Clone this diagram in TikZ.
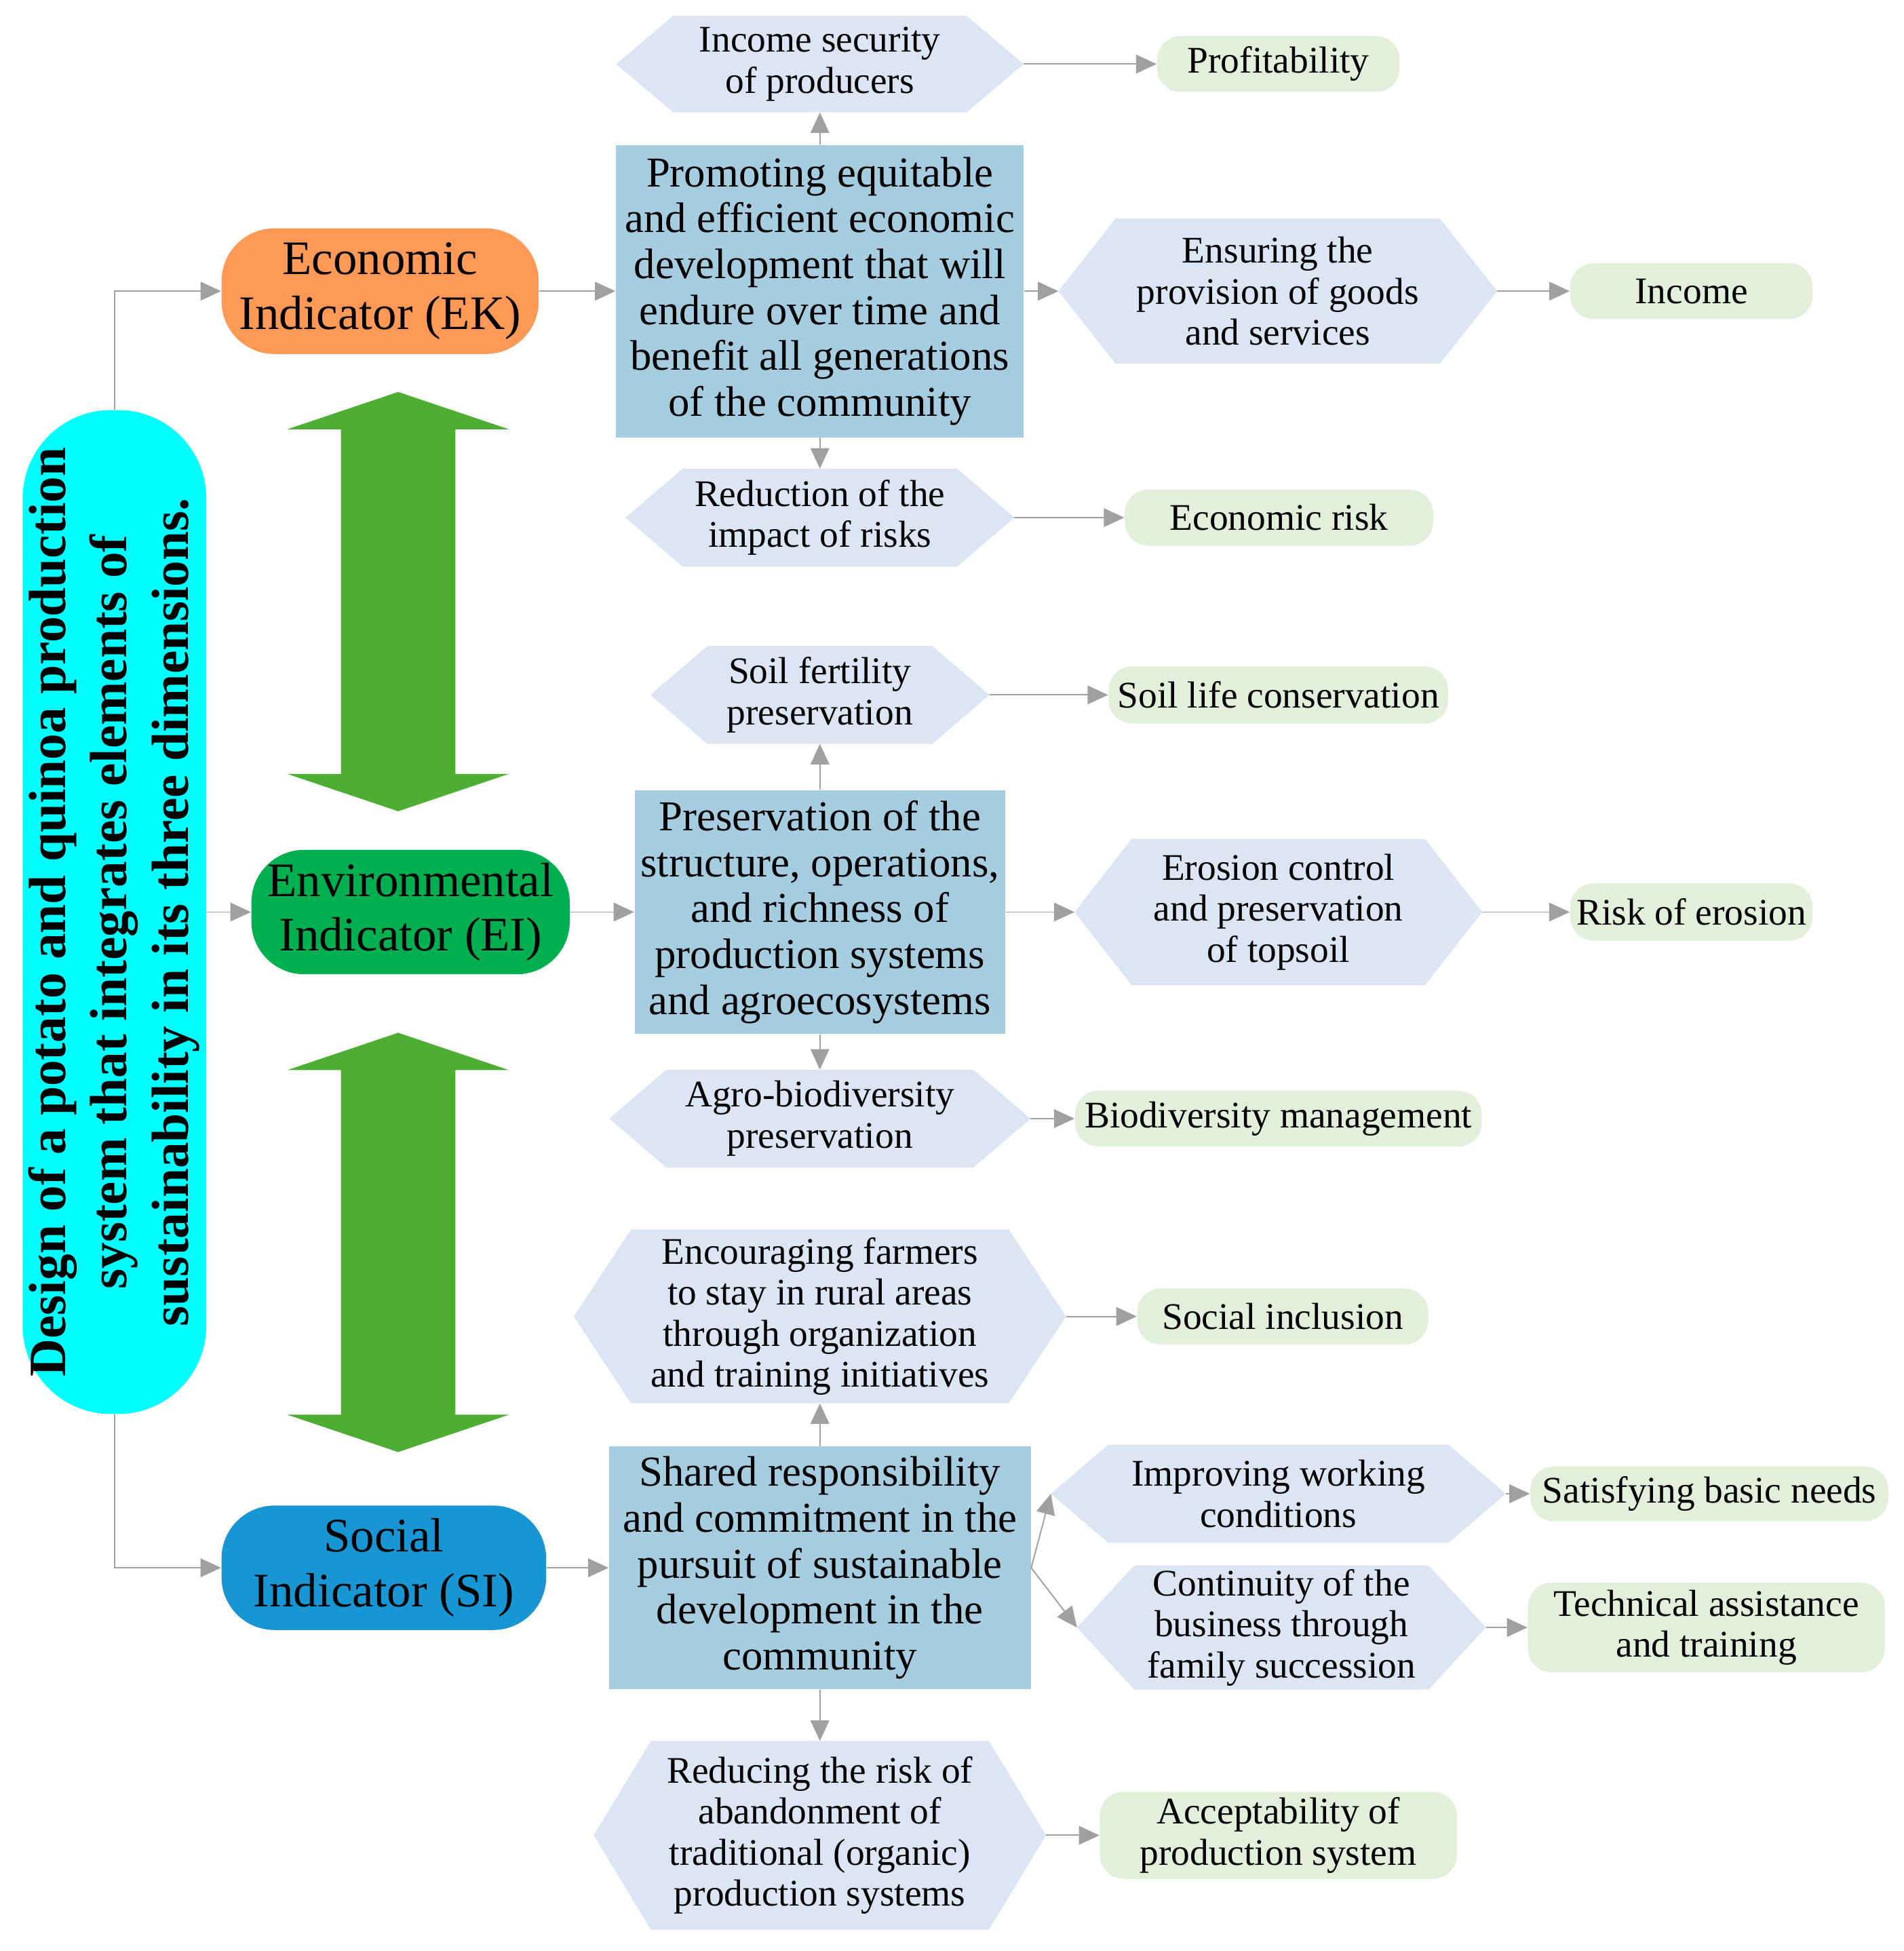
\documentclass[tikz,border=0pt]{standalone}
\usepackage{fontspec}
\usepackage{graphicx}
\setmainfont{Liberation Serif}
\usetikzlibrary{arrows.meta,backgrounds}
\definecolor{designcyan}{RGB}{0,255,255}
\definecolor{ekorange}{RGB}{255,153,85}
\definecolor{eigreen}{RGB}{0,176,80}
\definecolor{siblue}{RGB}{24,150,212}
\definecolor{boxblue}{RGB}{165,205,223}
\definecolor{hexblue}{RGB}{220,229,243}
\definecolor{pillgreen}{RGB}{226,239,218}
\definecolor{arrowgreen}{RGB}{77,174,51}
\definecolor{linkgray}{RGB}{160,160,160}
\tikzset{%
  link/.style = {-{Triangle[length=0.33cm,width=0.3cm]},draw=linkgray,
        line width=0.6pt},
  ind/.style = {rectangle,rounded corners=0.85cm,inner sep=0pt,align=center,
        font=\fontsize{22pt}{25pt}\selectfont},
  bx/.style = {rectangle,fill=boxblue,inner sep=0pt,align=center,
        font=\fontsize{19.5pt}{21pt}\selectfont},
  hx/.style = {rectangle,inner sep=0pt,align=center,
        font=\fontsize{17.2pt}{18.8pt}\selectfont},
  pl/.style = {rectangle,rounded corners=0.38cm,fill=pillgreen,inner sep=0pt,
        align=center,font=\fontsize{17.2pt}{18.8pt}\selectfont},
  hexfill/.style = {fill=hexblue},
  twoway/.style = {fill=arrowgreen}
}
\begin{document}
\begin{tikzpicture}[x=0.02cm,y=-0.02cm]
\useasboundingbox (0,0) rectangle (1530,1568);
% left column
\node[rectangle,fill=designcyan,rounded corners=1.42cm,minimum width=2.9cm,
      minimum height=16.14cm,inner sep=0pt] (design) at (92,733)
      {\rotatebox{90}{\fontsize{24pt}{28pt}\selectfont\bfseries
       \begin{tabular}{@{}c@{}}Design of a potato and quinoa production\\
       system that integrates elements of\\
       sustainability in its three dimensions.\end{tabular}}};
\node[ind,fill=ekorange,minimum width=5.1cm,minimum height=2.02cm] (econ)
      at (305.5,234) {Economic\\Indicator (EK)};
\node[ind,fill=eigreen,minimum width=5.12cm,minimum height=2cm] (env)
      at (330,733) {Environmental\\Indicator (EI)};
\node[ind,fill=siblue,minimum width=5.22cm,minimum height=2cm] (soc)
      at (308.5,1260) {Social\\Indicator (SI)};
\foreach \t in {315,830}
  \fill[twoway] (320,\t) -- (409,\t+30) -- (366,\t+30) -- (366,\t+307)
       -- (409,\t+307) -- (320,\t+337) -- (231,\t+307) -- (274,\t+307)
       -- (274,\t+30) -- (231,\t+30) -- cycle;

% main boxes
\node[bx,minimum width=6.56cm,minimum height=4.7cm] (econbox) at (659,234)
      {Promoting equitable\\and efficient economic\\development that will\\
       endure over time and\\benefit all generations\\of the community};
\node[bx,minimum width=5.96cm,minimum height=3.92cm] (envbox) at (659,733)
      {Preservation of the\\structure, operations,\\and richness of\\
       production systems\\and agroecosystems};
\node[bx,minimum width=6.78cm,minimum height=3.9cm] (socbox) at (659,1260)
      {Shared responsibility\\and commitment in the\\pursuit of sustainable\\
       development in the\\community};

% hexagons
\node[hx,minimum width=6.54cm,minimum height=1.54cm] (hIncome) at (659,51.5)
      {Income security\\of producers};
\node[hx,minimum width=7.04cm,minimum height=2.32cm] (hGoods) at (1027,234)
      {Ensuring the\\provision of goods\\and services};
\node[hx,minimum width=6.24cm,minimum height=1.56cm] (hRisks) at (659,416)
      {Reduction of the\\impact of risks};
\node[hx,minimum width=5.44cm,minimum height=1.56cm] (hSoil) at (659,558.5)
      {Soil fertility\\preservation};
\node[hx,minimum width=6.54cm,minimum height=2.34cm] (hErosion) at (1027.5,733)
      {Erosion control\\and preservation\\of topsoil};
\node[hx,minimum width=6.76cm,minimum height=1.56cm] (hAgro) at (659,899)
      {Agro-biodiversity\\preservation};
\node[hx,minimum width=7.9cm,minimum height=2.78cm] (hFarmers) at (659,1058)
      {Encouraging farmers\\to stay in rural areas\\through organization\\
       and training initiatives};
\node[hx,minimum width=7.3cm,minimum height=1.56cm] (hWorking) at (1027.5,1200.5)
      {Improving working\\conditions};
\node[hx,minimum width=6.56cm,minimum height=1.98cm] (hFamily) at (1030,1308)
      {Continuity of the\\business through\\family succession};
\node[hx,minimum width=7.26cm,minimum height=3.02cm] (hAbandon) at (659,1475)
      {Reducing the risk of\\abandonment of\\traditional (organic)\\
       production systems};
\begin{scope}[on background layer]
\foreach \n in {hIncome,hGoods,hRisks,hSoil,hErosion,hAgro,hFarmers,hWorking,
                hFamily,hAbandon}
  \fill[hexfill] (\n.west) -- ([xshift=0.92cm]\n.north west)
       -- ([xshift=-0.92cm]\n.north east) -- (\n.east)
       -- ([xshift=-0.92cm]\n.south east) -- ([xshift=0.92cm]\n.south west)
       -- cycle;
\end{scope}

% pills
\node[pl,minimum width=3.9cm,minimum height=0.9cm] (pProfit) at (1027.5,51.5)
      {Profitability};
\node[pl,minimum width=3.9cm,minimum height=0.9cm] (pIncome) at (1359.5,234)
      {Income};
\node[pl,minimum width=4.96cm,minimum height=0.9cm] (pEconRisk) at (1028,416)
      {Economic risk};
\node[pl,minimum width=5.46cm,minimum height=0.92cm] (pSoilLife) at (1027.5,558.5)
      {Soil life conservation};
\node[pl,minimum width=3.9cm,minimum height=0.92cm] (pErosion) at (1359.5,733)
      {Risk of erosion};
\node[pl,minimum width=6.54cm,minimum height=0.9cm] (pBiodiv) at (1027.5,899)
      {Biodiversity management};
\node[pl,minimum width=4.68cm,minimum height=0.9cm] (pInclusion) at (1031,1058)
      {Social inclusion};
\node[pl,minimum width=5.76cm,minimum height=0.88cm] (pBasic) at (1374,1200.5)
      {Satisfying basic needs};
\node[pl,minimum width=5.74cm,minimum height=1.44cm] (pTechnical) at (1371.5,1308)
      {Technical assistance\\and training};
\node[pl,minimum width=5.74cm,minimum height=1.4cm] (pAccept) at (1027.5,1475)
      {Acceptability of\\production system};

% connectors
\draw[link] (design.north) |- (econ.west);
\draw[link] (design.east) -- (env.west);
\draw[link] (design.south) |- (soc.west);
\draw[link] (econ.east) -- (econbox.west);
\draw[link] (env.east) -- (envbox.west);
\draw[link] (soc.east) -- (socbox.west);
\draw[link] (econbox.north) -- (hIncome.south);
\draw[link] (econbox.east) -- (hGoods.west);
\draw[link] (econbox.south) -- (hRisks.north);
\draw[link] (envbox.north) -- (hSoil.south);
\draw[link] (envbox.east) -- (hErosion.west);
\draw[link] (envbox.south) -- (hAgro.north);
\draw[link] (socbox.north) -- (hFarmers.south);
\draw[link] (socbox.east) -- (hWorking.west);
\draw[link] (socbox.east) -- (hFamily.west);
\draw[link] (socbox.south) -- (hAbandon.north);
\draw[link] (hIncome.east) -- (pProfit.west);
\draw[link] (hGoods.east) -- (pIncome.west);
\draw[link] (hRisks.east) -- (pEconRisk.west);
\draw[link] (hSoil.east) -- (pSoilLife.west);
\draw[link] (hErosion.east) -- (pErosion.west);
\draw[link] (hAgro.east) -- (pBiodiv.west);
\draw[link] (hFarmers.east) -- (pInclusion.west);
\draw[link] (hWorking.east) -- (pBasic.west);
\draw[link] (hFamily.east) -- (pTechnical.west);
\draw[link] (hAbandon.east) -- (pAccept.west);
\end{tikzpicture}
\end{document}
